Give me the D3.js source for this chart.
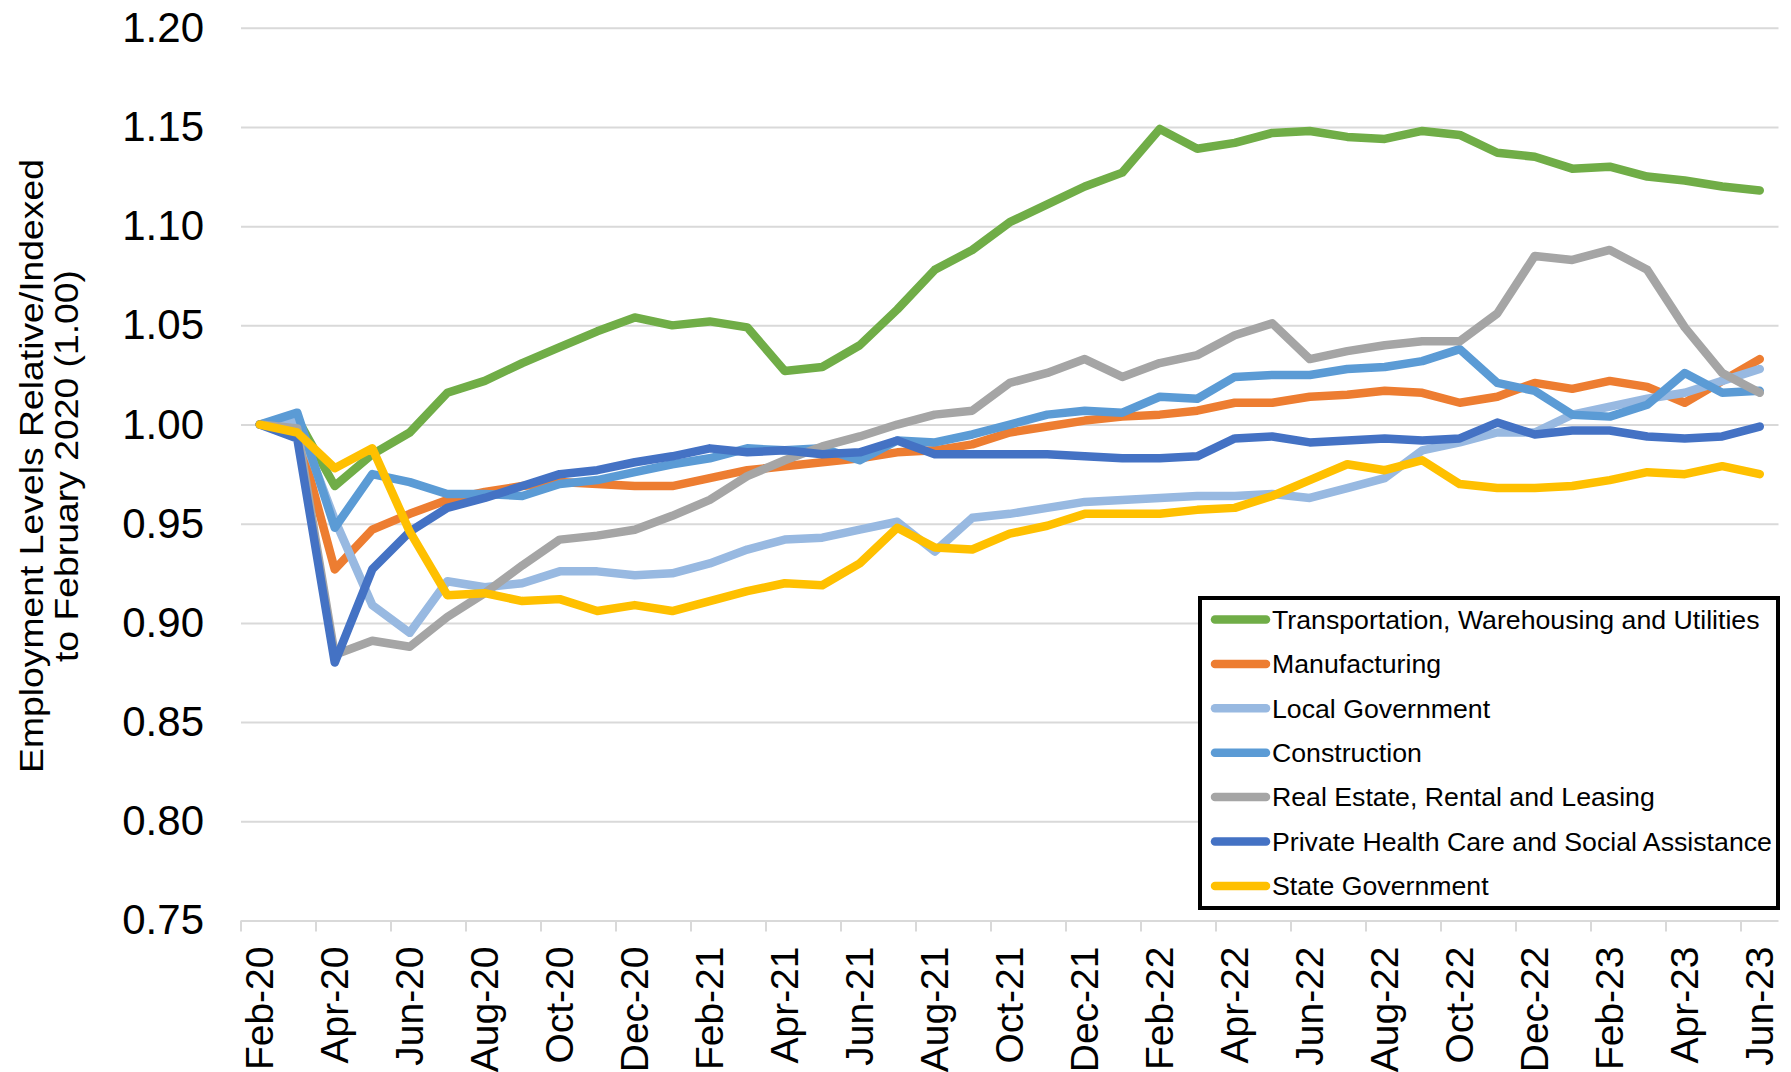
<!DOCTYPE html>
<html>
<head>
<meta charset="utf-8">
<script src="https://cdn.jsdelivr.net/npm/d3@7"></script>
<style>
  body { margin: 0; background: #fff; }
  svg { display: block; font-family: "Liberation Sans", Arial, sans-serif; }
</style>
</head>
<body>
<svg id="chart"></svg>
<script>
var months = ["Feb-20","Mar-20","Apr-20","May-20","Jun-20","Jul-20","Aug-20","Sep-20","Oct-20","Nov-20","Dec-20",
              "Jan-21","Feb-21","Mar-21","Apr-21","May-21","Jun-21","Jul-21","Aug-21","Sep-21","Oct-21","Nov-21","Dec-21",
              "Jan-22","Feb-22","Mar-22","Apr-22","May-22","Jun-22","Jul-22","Aug-22","Sep-22","Oct-22","Nov-22","Dec-22",
              "Jan-23","Feb-23","Mar-23","Apr-23","May-23","Jun-23"];

var yTicks = [0.75, 0.80, 0.85, 0.90, 0.95, 1.00, 1.05, 1.10, 1.15, 1.20];

var seriesNames = ["Transportation, Warehousing and Utilities", "Manufacturing", "Local Government", "Construction",
                   "Real Estate, Rental and Leasing", "Private Health Care and Social Assistance", "State Government"];

var transportation = [1.000, 1.003, 0.969, 0.985, 0.996, 1.016, 1.022, 1.031, 1.039, 1.047, 1.054, 1.050, 1.052, 1.049,
                      1.027, 1.029, 1.040, 1.058, 1.078, 1.088, 1.102, 1.111, 1.120, 1.127, 1.149, 1.139, 1.142, 1.147,
                      1.148, 1.145, 1.144, 1.148, 1.146, 1.137, 1.135, 1.129, 1.130, 1.125, 1.123, 1.120, 1.118];
var manufacturing = [1.000, 0.997, 0.927, 0.947, 0.955, 0.962, 0.966, 0.969, 0.971, 0.970, 0.969, 0.969, 0.973, 0.977,
                     0.979, 0.981, 0.983, 0.986, 0.987, 0.990, 0.996, 0.999, 1.002, 1.004, 1.005, 1.007, 1.011, 1.011,
                     1.014, 1.015, 1.017, 1.016, 1.011, 1.014, 1.021, 1.018, 1.022, 1.019, 1.011, 1.022, 1.033];
var localGov = [1.000, 1.002, 0.952, 0.909, 0.895, 0.921, 0.918, 0.920, 0.926, 0.926, 0.924, 0.925, 0.930, 0.937,
                0.942, 0.943, 0.947, 0.951, 0.936, 0.953, 0.955, 0.958, 0.961, 0.962, 0.963, 0.964, 0.964, 0.965,
                0.963, 0.968, 0.973, 0.987, 0.991, 0.996, 0.996, 1.005, 1.009, 1.013, 1.016, 1.022, 1.028];
var construction = [1.000, 1.006, 0.948, 0.975, 0.971, 0.965, 0.965, 0.964, 0.970, 0.972, 0.976, 0.980, 0.983, 0.988,
                    0.987, 0.988, 0.982, 0.992, 0.991, 0.995, 1.000, 1.005, 1.007, 1.006, 1.014, 1.013, 1.024, 1.025,
                    1.025, 1.028, 1.029, 1.032, 1.038, 1.021, 1.017, 1.005, 1.004, 1.010, 1.026, 1.016, 1.017];
var realEstate = [1.000, 0.998, 0.884, 0.891, 0.888, 0.903, 0.915, 0.929, 0.942, 0.944, 0.947, 0.954, 0.962, 0.974,
                  0.982, 0.989, 0.994, 1.000, 1.005, 1.007, 1.021, 1.026, 1.033, 1.024, 1.031, 1.035, 1.045, 1.051,
                  1.033, 1.037, 1.040, 1.042, 1.042, 1.056, 1.085, 1.083, 1.088, 1.078, 1.049, 1.026, 1.016];
var healthCare = [1.000, 0.993, 0.880, 0.927, 0.946, 0.958, 0.963, 0.969, 0.975, 0.977, 0.981, 0.984, 0.988, 0.986,
                  0.987, 0.985, 0.986, 0.992, 0.985, 0.985, 0.985, 0.985, 0.984, 0.983, 0.983, 0.984, 0.993, 0.994,
                  0.991, 0.992, 0.993, 0.992, 0.993, 1.001, 0.995, 0.997, 0.997, 0.994, 0.993, 0.994, 0.999];
var stateGov = [1.000, 0.996, 0.978, 0.988, 0.946, 0.914, 0.915, 0.911, 0.912, 0.906, 0.909, 0.906, 0.911, 0.916,
                0.920, 0.919, 0.930, 0.948, 0.938, 0.937, 0.945, 0.949, 0.955, 0.955, 0.955, 0.957, 0.958, 0.964,
                0.972, 0.980, 0.977, 0.982, 0.970, 0.968, 0.968, 0.969, 0.972, 0.976, 0.975, 0.979, 0.975];

var colors = ["#70AD47", "#ED7D31", "#98B9E1", "#5B9BD5", "#A5A5A5", "#4472C4", "#FFC000"];

var allSeries = [transportation, manufacturing, localGov, construction, realEstate, healthCare, stateGov];

var width = 1791, height = 1072;
var plotLeft = 241, plotRight = 1778.5, plotTop = 27.8, plotBottom = 920.5;

var svg = d3.select("#chart")
            .attr("width", width)
            .attr("height", height);

var x = d3.scaleBand()
          .domain(months)
          .range([plotLeft, plotRight])
          .padding(0);

var y = d3.scaleLinear()
          .domain([0.75, 1.20])
          .range([plotBottom, plotTop]);

// gridlines + y labels
var yAxis = svg.append("g")
               .attr("transform", "translate(" + plotLeft + ",0)")
               .call(d3.axisLeft(y)
                       .tickValues(yTicks)
                       .tickSize(-(plotRight - plotLeft))
                       .tickPadding(37)
                       .tickFormat(d3.format(".2f")));

yAxis.select(".domain").remove();
yAxis.selectAll("line")
     .attr("stroke", "#D9D9D9")
     .attr("stroke-width", 2);
yAxis.selectAll("text")
     .attr("font-size", "42px")
     .attr("font-family", "Liberation Sans, Arial, sans-serif")
     .attr("fill", "#000");

// tick marks sit between categories, every second one
var tickMonths = months.filter((m, i) => i % 2 === 0);

svg.append("g")
   .selectAll("line")
   .data(tickMonths)
   .enter()
   .append("line")
     .attr("x1", d => x(d))
     .attr("x2", d => x(d))
     .attr("y1", plotBottom)
     .attr("y2", plotBottom + 11)
     .attr("stroke", "#D9D9D9")
     .attr("stroke-width", 2);

// x labels on the points
var xAxis = svg.append("g")
               .attr("transform", "translate(0," + plotBottom + ")")
               .call(d3.axisBottom(x)
                       .tickValues(tickMonths)
                       .tickSize(0));

xAxis.select(".domain").remove();
xAxis.selectAll("text")
     .attr("transform", "rotate(-90)")
     .attr("x", -26)
     .attr("y", 0)
     .attr("dy", "0.35em")
     .attr("font-size", "39px")
     .attr("font-family", "Liberation Sans, Arial, sans-serif")
     .attr("fill", "#000")
     .style("text-anchor", "end");

// axis title, two lines
var title = svg.append("text")
               .attr("transform", "translate(0,466) rotate(-90)")
               .attr("font-size", "34px")
               .attr("fill", "#000")
               .style("text-anchor", "middle");

title.append("tspan")
     .attr("x", 0)
     .attr("y", 43)
     .attr("textLength", 614)
     .attr("lengthAdjust", "spacingAndGlyphs")
     .text("Employment Levels Relative/Indexed");

title.append("tspan")
     .attr("x", 0)
     .attr("y", 78)
     .attr("textLength", 392)
     .attr("lengthAdjust", "spacingAndGlyphs")
     .text("to February 2020 (1.00)");

// lines
var line = d3.line()
             .x((d, i) => x(months[i]) + x.bandwidth() / 2)
             .y(d => y(d));

svg.append("g")
   .selectAll("path")
   .data(allSeries)
   .enter()
   .append("path")
     .attr("d", line)
     .attr("fill", "none")
     .attr("stroke", (d, i) => colors[i])
     .attr("stroke-width", 8.5)
     .attr("stroke-linejoin", "round")
     .attr("stroke-linecap", "round");

// legend
var legend = svg.append("g");

legend.append("rect")
      .attr("x", 1200)
      .attr("y", 598)
      .attr("width", 578)
      .attr("height", 310)
      .attr("fill", "#fff")
      .attr("stroke", "#000")
      .attr("stroke-width", 4);

var items = legend.selectAll(".item")
                  .data(seriesNames)
                  .enter()
                  .append("g")
                  .classed("item", true)
                  .attr("transform", (d, i) => "translate(0," + (619.5 + i * 44.4) + ")");

items.append("line")
     .attr("x1", 1215)
     .attr("x2", 1266)
     .attr("stroke", (d, i) => colors[i])
     .attr("stroke-width", 8.5)
     .attr("stroke-linecap", "round");

items.append("text")
     .attr("x", 1272)
     .attr("dy", "0.35em")
     .attr("font-size", "26.7px")
     .attr("fill", "#000")
     .text(d => d);
</script>
</body>
</html>
